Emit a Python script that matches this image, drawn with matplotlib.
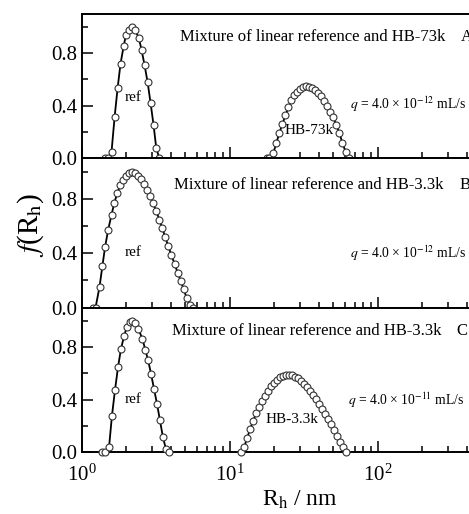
# ============================================================
# Size distributions f(R_h) for three polymer mixtures
# ============================================================

import matplotlib
matplotlib.use("Agg")

import matplotlib.pyplot as plt
from matplotlib.ticker import LogLocator, MultipleLocator, NullFormatter


# ============================================================
# Data
# ============================================================

# Panel A: linear reference + HB-73k, q = 4.0e-12 mL/s
a_ref_rh = [1.44, 1.51, 1.59, 1.67, 1.75, 1.83, 1.92, 1.99, 2.09, 2.19,
            2.29, 2.43, 2.54, 2.66, 2.79, 2.92, 3.06, 3.19, 3.34]
a_ref_f = [0.0, 0.0, 0.046, 0.317, 0.538, 0.721, 0.853, 0.94, 0.975, 1.0,
           0.978, 0.919, 0.823, 0.709, 0.577, 0.42, 0.25, 0.076, 0.0]

a_hb_rh = [17.8, 18.5, 19.7, 20.7, 21.6, 22.7, 23.8, 24.9, 26.1, 27.3,
           28.6, 30.0, 31.5, 33.0, 34.5, 36.2, 37.9, 39.7, 41.6, 43.6,
           45.7, 47.9, 50.1, 52.5, 55.1, 57.7, 60.8, 63.7]
a_hb_f = [0.0, 0.0, 0.036, 0.117, 0.188, 0.259, 0.325, 0.386, 0.442, 0.48,
          0.505, 0.528, 0.545, 0.55, 0.545, 0.536, 0.52, 0.498, 0.47, 0.437,
          0.396, 0.352, 0.31, 0.252, 0.19, 0.117, 0.045, 0.0]

# Panel B: linear reference + HB-3.3k, q = 4.0e-12 mL/s
b_ref_rh = [1.19, 1.24, 1.32, 1.38, 1.44, 1.51, 1.59, 1.66, 1.74, 1.82,
            1.91, 1.99, 2.09, 2.19, 2.29, 2.40, 2.52, 2.64, 2.76, 2.89,
            3.03, 3.19, 3.35, 3.51, 3.67, 3.85, 4.03, 4.25, 4.45, 4.66,
            4.89, 5.12, 5.37, 5.62]
b_ref_f = [0.0, 0.0, 0.154, 0.307, 0.449, 0.573, 0.683, 0.768, 0.844, 0.898,
           0.939, 0.971, 0.988, 0.995, 0.99, 0.971, 0.944, 0.91, 0.868, 0.824,
           0.768, 0.71, 0.646, 0.583, 0.517, 0.451, 0.388, 0.32, 0.256, 0.198,
           0.134, 0.071, 0.017, 0.0]

# Panel C: linear reference + HB-3.3k, q = 4.0e-11 mL/s
c_ref_rh = [1.38, 1.44, 1.53, 1.60, 1.68, 1.76, 1.84, 1.93, 2.02, 2.11,
            2.20, 2.30, 2.41, 2.57, 2.69, 2.81, 2.94, 3.08, 3.23, 3.38,
            3.54, 3.71, 3.89]
c_ref_f = [0.0, 0.0, 0.038, 0.275, 0.477, 0.649, 0.783, 0.881, 0.955, 0.99,
           1.0, 0.985, 0.94, 0.864, 0.78, 0.70, 0.598, 0.482, 0.366, 0.242,
           0.114, 0.025, 0.0]

c_hb_rh = [11.9, 12.5, 13.1, 13.7, 14.4, 15.1, 15.8, 16.5, 17.3, 18.2,
           19.0, 19.9, 20.9, 21.9, 22.9, 24.0, 25.2, 26.4, 27.6, 28.9,
           30.3, 31.8, 33.3, 34.9, 36.5, 38.3, 40.1, 42.0, 44.0, 46.2,
           48.4, 50.7, 53.1, 55.6, 58.3, 60.8]
c_hb_f = [0.0, 0.038, 0.106, 0.174, 0.24, 0.298, 0.346, 0.391, 0.432, 0.47,
          0.503, 0.53, 0.553, 0.571, 0.583, 0.591, 0.591, 0.586, 0.576, 0.563,
          0.543, 0.523, 0.497, 0.47, 0.439, 0.407, 0.371, 0.333, 0.295, 0.255,
          0.212, 0.169, 0.124, 0.078, 0.038, 0.0]

panel_titles = [
    "Mixture of linear reference and HB-73k",
    "Mixture of linear reference and HB-3.3k",
    "Mixture of linear reference and HB-3.3k",
]
panel_letters = ["A", "B", "C"]
flow_rates = [
    r"$q$ = 4.0 × 10$^{-12}$ mL/s",
    r"$q$ = 4.0 × 10$^{-12}$ mL/s",
    r"$q$ = 4.0 × 10$^{-11}$ mL/s",
]
hb_labels = ["HB-73k", None, "HB-3.3k"]


# ============================================================
# Style
# ============================================================

plt.rcParams["font.family"] = ["Liberation Serif", "DejaVu Serif"]
plt.rcParams["mathtext.fontset"] = "stix"

W, H = 469, 514
DPI = 100

LEFT = 81.7 / W
WIDTH = 3 * 148.0 / W          # three decades; axes run past the right edge

# panel boundaries in pixels from the top: (top, bottom)
PANEL_PX = [(14.0, 158.0), (158.0, 307.7), (307.7, 452.3)]


def style_axis(ax, show_xlabels):
    ax.set_xscale("log")
    ax.set_xlim(1, 1000)
    ax.set_ylim(0, 1.1)

    ax.xaxis.set_major_locator(LogLocator(base=10, numticks=10))
    ax.xaxis.set_minor_locator(LogLocator(base=10, subs=range(2, 10), numticks=20))
    ax.xaxis.set_minor_formatter(NullFormatter())
    ax.yaxis.set_major_locator(MultipleLocator(0.4))
    ax.yaxis.set_minor_locator(MultipleLocator(0.2))
    ax.yaxis.set_major_formatter(lambda v, pos: f"{v:.1f}")

    ax.tick_params(which="both", direction="in", top=False, right=False,
                   labelsize=15, width=1.1, pad=3)
    ax.tick_params(which="major", length=8)
    ax.tick_params(which="minor", length=4.5)
    ax.tick_params(axis="x", which="major", pad=9)
    if not show_xlabels:
        ax.tick_params(axis="x", which="both", labelbottom=False)

    for spine in ax.spines.values():
        spine.set_linewidth(1.4)


def draw_curve(ax, rh, f):
    ax.plot(rh, f, color="black", linewidth=1.3, marker="o", markersize=5,
            markerfacecolor="white", markeredgecolor="#333333",
            markeredgewidth=0.8, clip_on=False, zorder=3)


def main():
    fig = plt.figure(figsize=(W / DPI, H / DPI), dpi=DPI)

    axes = []
    for top, bottom in PANEL_PX:
        rect = [LEFT, (H - bottom) / H, WIDTH, (bottom - top) / H]
        axes.append(fig.add_axes(rect))

    # --------------------------------------------------------
    # Panel A
    # --------------------------------------------------------
    ax = axes[0]
    draw_curve(ax, a_ref_rh, a_ref_f)
    draw_curve(ax, a_hb_rh, a_hb_f)
    ax.text(0.116, 0.417, "ref", transform=ax.transAxes, fontsize=11,
            ha="center", va="center")
    ax.text(0.512, 0.19, hb_labels[0], transform=ax.transAxes, fontsize=11,
            ha="center", va="center", zorder=4)

    # --------------------------------------------------------
    # Panel B
    # --------------------------------------------------------
    ax = axes[1]
    draw_curve(ax, b_ref_rh, b_ref_f)
    ax.text(0.116, 0.37, "ref", transform=ax.transAxes, fontsize=11,
            ha="center", va="center")

    # --------------------------------------------------------
    # Panel C
    # --------------------------------------------------------
    ax = axes[2]
    draw_curve(ax, c_ref_rh, c_ref_f)
    draw_curve(ax, c_hb_rh, c_hb_f)
    ax.text(0.116, 0.367, "ref", transform=ax.transAxes, fontsize=11,
            ha="center", va="center")
    ax.text(0.474, 0.224, hb_labels[2], transform=ax.transAxes, fontsize=11,
            ha="center", va="center", zorder=4)

    # --------------------------------------------------------
    # Common annotations and axes
    # --------------------------------------------------------
    title_pos = [(0.221, 0.84), (0.208, 0.82), (0.203, 0.839)]
    letter_x = [0.853, 0.852, 0.843]
    q_pos = [(0.604, 0.375), (0.604, 0.365), (0.599, 0.357)]

    for i, ax in enumerate(axes):
        style_axis(ax, show_xlabels=(i == 2))
        tx, ty = title_pos[i]
        ax.text(tx, ty, panel_titles[i], transform=ax.transAxes, fontsize=12,
                ha="left", va="center")
        ax.text(letter_x[i], ty, panel_letters[i], transform=ax.transAxes,
                fontsize=12, ha="left", va="center")
        qx, qy = q_pos[i]
        ax.text(qx, qy, flow_rates[i], transform=ax.transAxes, fontsize=9.8,
                ha="left", va="center")

    axes[2].set_xlabel(r"R$_\mathrm{h}$ / nm", fontsize=17, labelpad=1)
    axes[2].xaxis.set_label_coords((300 - 81.7) / (3 * 148.0), -0.25)

    fig.text(31 / W, 1 - 225 / H, r"$f$(R$_\mathrm{h}$)", fontsize=21,
             rotation=90, ha="center", va="center")

    fig.savefig("out.png", dpi=DPI)
    plt.close(fig)


if __name__ == "__main__":
    main()
